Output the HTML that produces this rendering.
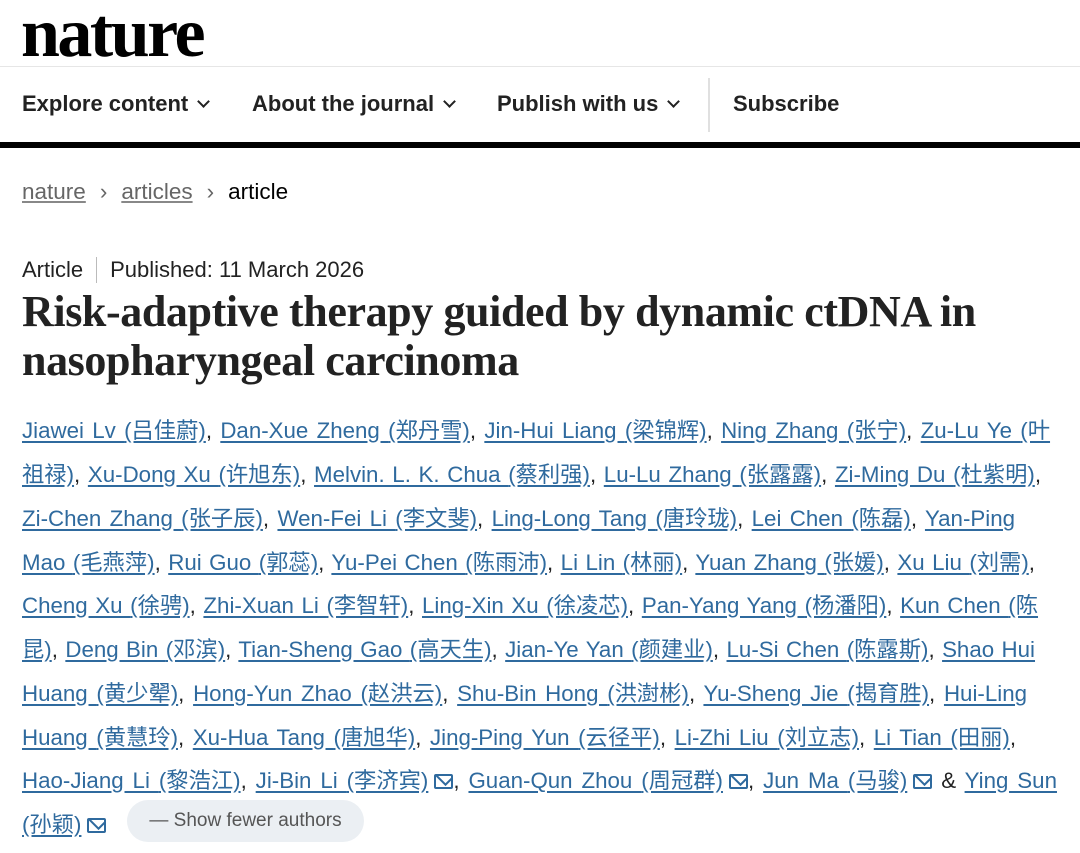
<!DOCTYPE html>
<html><head><meta charset="utf-8"><style>
body{margin:0;width:1080px;height:853px;background:#fff;position:relative;overflow:hidden;font-family:"Liberation Sans","Noto Sans CJK SC",sans-serif;color:#222}
.a{position:absolute;white-space:nowrap}
.logo{left:21px;top:-6px;font-family:"Liberation Serif",serif;font-weight:bold;font-size:70px;letter-spacing:-2.5px;color:#000}
.nav{top:91px;font-weight:bold;font-size:22px;color:#222}
.chev{display:inline-block;width:7px;height:7px;border-right:2.5px solid #222;border-bottom:2.5px solid #222;transform:rotate(45deg);margin-left:11px;position:relative;top:-5px}
.bc{top:179px;font-size:22.5px}
.bc u{color:#666;text-decoration-color:#888}
.bc .s{color:#666;margin:0 14px}
.title{left:22px;font-family:"Liberation Serif",serif;font-weight:bold;font-size:44px;color:#222;letter-spacing:-0.4px}
.au{left:22px;font-size:22.3px;color:#222;text-align:justify;text-align-last:justify;text-justify:inter-word;white-space:nowrap}
.au a,.l a{color:#2f6a9e;text-decoration:underline;text-underline-offset:3px}
b{display:inline-block;font-weight:normal;color:#2f6a9e;text-decoration:underline;text-underline-offset:3px}
.env{display:inline-block;width:19px;height:15px;border:2px solid #2f6a9e;border-radius:2px;position:relative;margin-left:6px;top:1px;box-sizing:border-box;overflow:hidden}
.env:after{content:"";position:absolute;left:2px;top:-8px;width:11px;height:11px;border:2px solid #2f6a9e;transform:rotate(45deg)}
</style></head><body>
<div class="a logo">nature</div>
<div style="position:absolute;left:0;top:66px;width:1080px;height:1px;background:#e6e6e6"></div>
<div class="a nav" style="left:22px">Explore content<span class="chev"></span></div>
<div class="a nav" style="left:252px">About the journal<span class="chev"></span></div>
<div class="a nav" style="left:497px">Publish with us<span class="chev"></span></div>
<div style="position:absolute;left:708px;top:78px;width:2px;height:54px;background:#e0e0e0"></div>
<div class="a nav" style="left:733px">Subscribe</div>
<div style="position:absolute;left:0;top:142px;width:1080px;height:6px;background:#000"></div>
<div class="a bc" style="left:22px"><u>nature</u><span class="s">›</span><u>articles</u><span class="s">›</span><span style="color:#000">article</span></div>
<div class="a" style="left:22px;top:257px;font-size:22px">Article<span style="display:inline-block;width:1px;height:26px;background:#bbb;vertical-align:-6px;margin:0 13px"></span>Published: 11 March 2026</div>
<div class="a title" style="top:286px">Risk-adaptive therapy guided by dynamic ctDNA in</div>
<div class="a title" style="top:335px">nasopharyngeal carcinoma</div>

<div class="a au" style="top:413px;width:1028px"><a>Jiawei Lv <b>(吕佳蔚)</b></a>, <a>Dan-Xue Zheng <b>(郑丹雪)</b></a>, <a>Jin-Hui Liang <b>(梁锦辉)</b></a>, <a>Ning Zhang <b>(张宁)</b></a>, <a>Zu-Lu Ye <b>(叶</b></a></div>
<div class="a au" style="top:457px;width:1019px"><a><b>祖禄)</b></a>, <a>Xu-Dong Xu <b>(许旭东)</b></a>, <a>Melvin. L. K. Chua <b>(蔡利强)</b></a>, <a>Lu-Lu Zhang <b>(张露露)</b></a>, <a>Zi-Ming Du <b>(杜紫明)</b></a>,</div>
<div class="a au" style="top:501px;width:993px"><a>Zi-Chen Zhang <b>(张子辰)</b></a>, <a>Wen-Fei Li <b>(李文斐)</b></a>, <a>Ling-Long Tang <b>(唐玲珑)</b></a>, <a>Lei Chen <b>(陈磊)</b></a>, <a>Yan-Ping</a></div>
<div class="a au" style="top:545px;width:1013px"><a>Mao <b>(毛燕萍)</b></a>, <a>Rui Guo <b>(郭蕊)</b></a>, <a>Yu-Pei Chen <b>(陈雨沛)</b></a>, <a>Li Lin <b>(林丽)</b></a>, <a>Yuan Zhang <b>(张媛)</b></a>, <a>Xu Liu <b>(刘需)</b></a>,</div>
<div class="a au" style="top:588px;width:1016px"><a>Cheng Xu <b>(徐骋)</b></a>, <a>Zhi-Xuan Li <b>(李智轩)</b></a>, <a>Ling-Xin Xu <b>(徐凌芯)</b></a>, <a>Pan-Yang Yang <b>(杨潘阳)</b></a>, <a>Kun Chen <b>(陈</b></a></div>
<div class="a au" style="top:632px;width:1013px"><a><b>昆)</b></a>, <a>Deng Bin <b>(邓滨)</b></a>, <a>Tian-Sheng Gao <b>(高天生)</b></a>, <a>Jian-Ye Yan <b>(颜建业)</b></a>, <a>Lu-Si Chen <b>(陈露斯)</b></a>, <a>Shao Hui</a></div>
<div class="a au" style="top:676px;width:1005px"><a>Huang <b>(黄少翚)</b></a>, <a>Hong-Yun Zhao <b>(赵洪云)</b></a>, <a>Shu-Bin Hong <b>(洪澍彬)</b></a>, <a>Yu-Sheng Jie <b>(揭育胜)</b></a>, <a>Hui-Ling</a></div>
<div class="a au" style="top:720px;width:994px"><a>Huang <b>(黄慧玲)</b></a>, <a>Xu-Hua Tang <b>(唐旭华)</b></a>, <a>Jing-Ping Yun <b>(云径平)</b></a>, <a>Li-Zhi Liu <b>(刘立志)</b></a>, <a>Li Tian <b>(田丽)</b></a>,</div>
<div class="a au" style="top:763px;width:1035px"><a>Hao-Jiang Li <b>(黎浩江)</b></a>, <a>Ji-Bin Li <b>(李济宾)</b></a><span class="env"></span>, <a>Guan-Qun Zhou <b>(周冠群)</b></a><span class="env"></span>, <a>Jun Ma <b>(马骏)</b></a><span class="env"></span> &amp; <a>Ying Sun</a></div>
<div class="a l" style="left:22px;top:807px;font-size:22.3px"><a><b>(孙颖)</b></a><span class="env"></span></div>
<div class="a" style="left:127px;top:800px;width:237px;height:42px;border-radius:21px;background:#ebeff3;font-size:19px;color:#555;line-height:42px;text-align:center">— Show fewer authors</div>
</body></html>
